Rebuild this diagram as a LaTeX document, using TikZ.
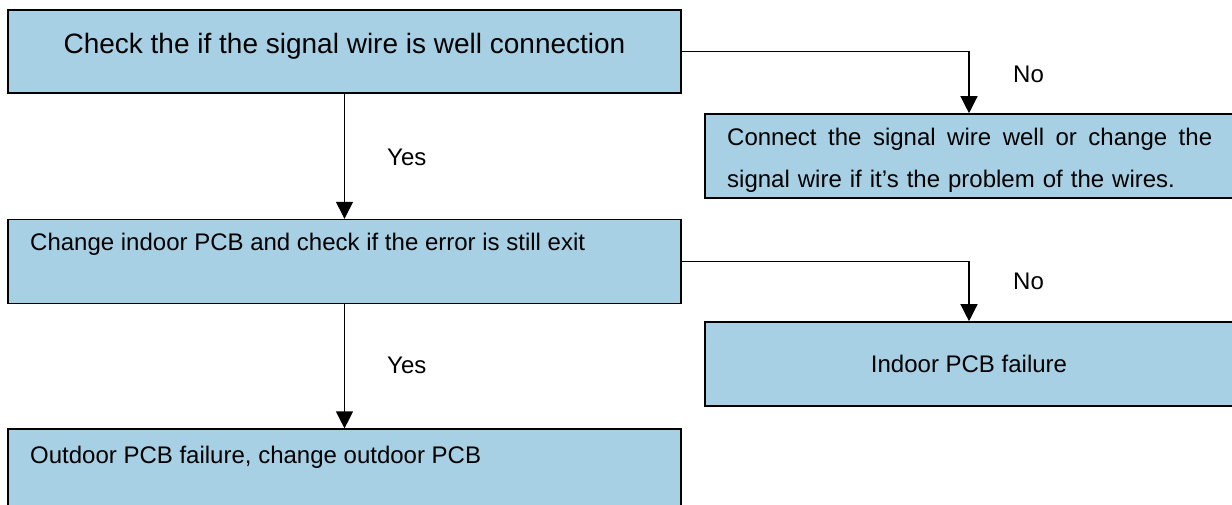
\documentclass[tikz,border=0pt]{standalone}
\usepackage{fontspec}
\setmainfont{Liberation Sans}
\usepackage{tikz}
\usetikzlibrary{positioning, arrows.meta}
\definecolor{boxblue}{RGB}{168,208,228}

\begin{document}
\begin{tikzpicture}[x=1pt, y=-1pt,
    box/.style={draw=black, line width=1.6pt, fill=boxblue, inner sep=0pt,
                minimum width=673pt, minimum height=84pt},
    sidebox/.style={box, minimum width=528pt},
    flow/.style={draw=black, line width=1.3pt, -{Triangle[width=17pt, length=17pt]}},
    txt/.style={inner sep=0pt, font=\fontsize{24}{42}\selectfont}]
    \clip (0,0) rectangle (1232,504);
    \fill[white] (0,0) rectangle (1232,504);

    % left column
    \node[box, minimum height=83pt] (check) at (344.5,51.5) {};
    \node[box, below=125pt of check] (change) {};
    \node[box, below=124pt of change] (outdoor) {};

    % right column
    \node[sidebox] (connect) at (969,156) {};
    \node[sidebox] (indoor) at (969,364) {};

    % texts
    \node[txt, anchor=base, font=\fontsize{28}{34}\selectfont] (checktxt) at (344.5,53)
      {Check the if the signal wire is well connection};
    \node[txt, anchor=base west, text width=485pt, align=left] (connecttxt) at (727,145)
      {\hbox to 485pt{Connect \hfil the \hfil signal \hfil wire \hfil well \hfil or \hfil change \hfil the}\\
       signal wire if it’s the problem of the wires.};
    \node[txt, anchor=base west] (changetxt) at (30,250)
      {Change indoor PCB and check if the error is still exit};
    \node[txt, anchor=base] (indoortxt) at (969,372) {Indoor PCB failure};
    \node[txt, anchor=base west] (outdoortxt) at (30,463)
      {Outdoor PCB failure, change outdoor PCB};

    % connectors
    \draw[flow] (check.east) -| (connect.north);
    \draw[flow] (check.south) -- (change.north);
    \draw[flow] (change.east) -| (indoor.north);
    \draw[flow] (change.south) -- (outdoor.north);

    \node[txt, anchor=base west] (no1) at (1013,82) {No};
    \node[txt, anchor=base west] (yes1) at (387,165) {Yes};
    \node[txt, anchor=base west] (no2) at (1013,289) {No};
    \node[txt, anchor=base west] (yes2) at (387,373) {Yes};
\end{tikzpicture}
\end{document}
